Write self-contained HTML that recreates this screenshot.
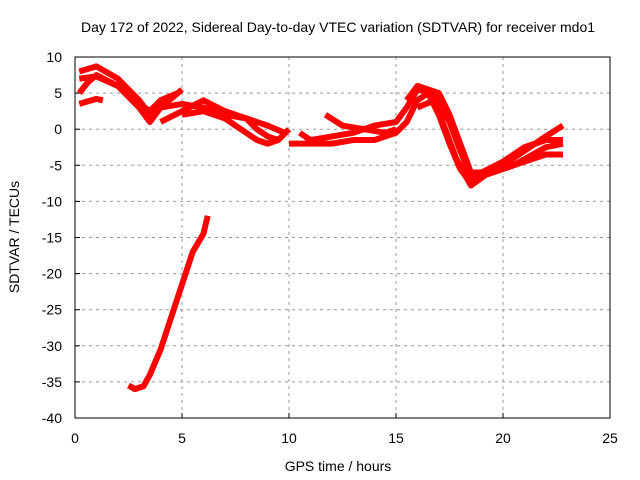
<!DOCTYPE html>
<html><head><meta charset="utf-8"><style>
body{margin:0;background:#fff}
svg{display:block;font-family:"Liberation Sans",sans-serif}
</style></head><body>
<svg id="chart" width="640" height="480">
<rect width="640" height="480" fill="#fff"/>
<text x="338" y="32" font-size="14" text-anchor="middle">Day 172 of 2022, Sidereal Day-to-day VTEC variation (SDTVAR) for receiver mdo1</text>
<text x="338" y="471" font-size="14" text-anchor="middle">GPS time / hours</text>
<text transform="translate(19,237) rotate(-90)" font-size="14" text-anchor="middle">SDTVAR / TECUs</text>
<g id="grid"></g><g id="ticks"></g><g id="series"></g>
<rect x="75" y="57" width="535" height="361" fill="none" stroke="#000" stroke-width="1"/>
</svg>
<script>
const xTicks=[0,5,10,15,20,25];
const yTicks=[10,5,0,-5,-10,-15,-20,-25,-30,-35,-40];
const sA=[[0.2,8],[1,8.7],[2,7],[2.5,5.5],[3,4],[3.5,2],[4,3],[5,3.5],[6,3],[7,2],[8,1.5],[9,0.5],[9.8,-0.5]];
const sB=[[0.2,5],[0.6,6.5],[1,7.5],[2,6],[3,3],[3.5,1],[4,3],[5,5.5]];
const sB2=[[0.2,7],[1,7.3],[2,6],[3,3.5],[3.5,2.5],[4,4],[4.8,5]];
const sC=[[0.2,3.5],[1,4.2],[1.3,4]];
const sD=[[4,1],[5,2.5],[6,4],[7,2.5],[8,1.5],[8.5,0],[9,-1],[9.5,-1.5],[10,0]];
const sE=[[5,2],[6,2.5],[7,1.5],[8,-0.5],[8.5,-1.5],[9,-2],[9.5,-1.5]];
const sF=[[10,-2],[11,-2],[12,-2],[13,-1.5],[14,-1.5],[15,-0.5],[15.5,1],[16,4],[16.5,5],[17,2],[17.5,-2],[18,-5.5],[18.5,-7.5],[19,-6.5],[20,-5.5],[21,-4.5],[22,-3.5],[22.8,-3.5]];
const sG=[[10.5,-0.5],[11,-1.5],[12,-1],[13,-0.5],[14,0.5],[15,1],[15.5,3],[16,5.5],[16.8,5],[17.5,1],[18,-3],[18.5,-6.5],[19,-6],[20,-5],[21,-3],[22,-1],[22.8,0.5]];
const sH=[[11.7,2],[12.5,0.5],[13.5,0],[14.5,-0.5],[15,0]];
const sI=[[15.5,4],[16,6],[17,5],[17.5,2],[18,-2],[18.5,-6],[19,-6],[20,-4.5],[21,-2.5],[22,-1.5],[22.8,-1.5]];
const sK=[[16,3],[16.8,4],[17.3,0],[17.8,-4],[18.5,-7.8],[19.2,-6.3],[20.5,-5],[22,-2.5],[22.8,-2]];
const sJ=[[2.5,-35.5],[2.8,-36],[3.2,-35.6],[3.5,-34],[4,-30.5],[4.5,-26],[5,-21.5],[5.5,-17],[5.8,-15.5],[6,-14.5],[6.2,-12]];
const allSeries=[sA,sB,sB2,sC,sD,sE,sF,sG,sH,sI,sK,sJ];
const X=v=>75+v*535/25, Y=v=>57+(10-v)*361/50;
const NS="http://www.w3.org/2000/svg";
const grid=document.getElementById('grid'),ticks=document.getElementById('ticks'),ser=document.getElementById('series');
function mk(tag,a,p){const e=document.createElementNS(NS,tag);for(const k in a)e.setAttribute(k,a[k]);p.appendChild(e);return e;}
xTicks.forEach(t=>{
  if(t>0&&t<25){const g=mk('line',{x1:X(t),x2:X(t),y1:57,y2:418,stroke:'#999','stroke-dasharray':'3,4'},grid);
  
  }
  const tk=mk('line',{x1:X(t),x2:X(t),y1:418,y2:413,stroke:'#000'},ticks);
  
  
  const l=mk('text',{x:X(t),y:443,'font-size':14,'text-anchor':'middle'},ticks);l.textContent=t;
  
  
});
yTicks.forEach(t=>{
  if(t<10&&t>-40){const g=mk('line',{x1:75,x2:610,y1:Y(t),y2:Y(t),stroke:'#999','stroke-dasharray':'3,4'},grid);
  
  }
  const tk=mk('line',{x1:75,x2:80,y1:Y(t),y2:Y(t),stroke:'#000'},ticks);
  
  
  const l=mk('text',{x:62,y:Y(t)+5,'font-size':14,'text-anchor':'end'},ticks);l.textContent=t;
  
  
});
allSeries.forEach(s=>{
  const p=mk('polyline',{points:s.map(d=>X(d[0])+','+Y(d[1])).join(' '),fill:'none',stroke:'#f00','stroke-width':6,'stroke-linejoin':'round'},ser);
  
  
});
</script>
</body></html>
